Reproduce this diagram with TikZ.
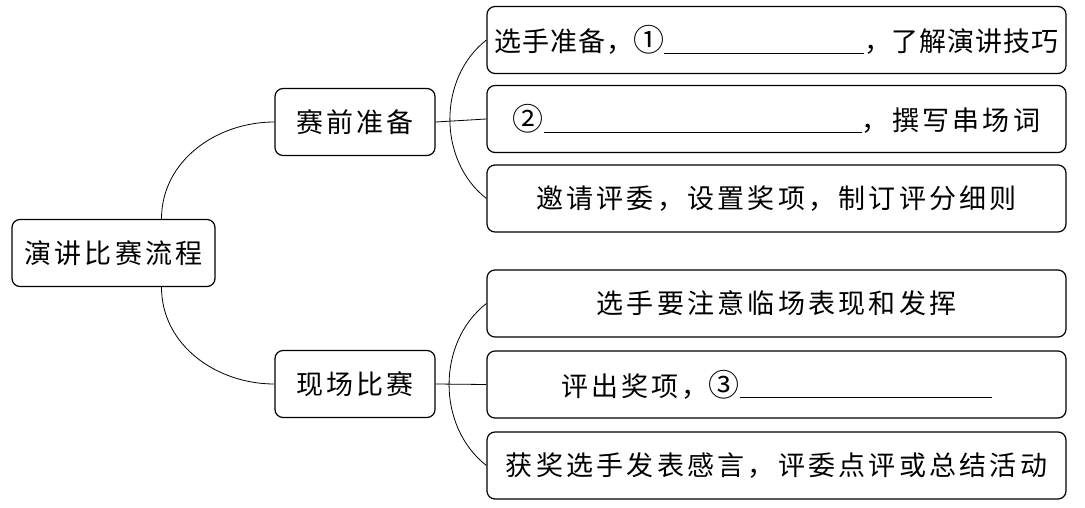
\documentclass[tikz,border=0pt]{standalone}
\usepackage{fontspec}
\newfontfamily\cjkwide[LetterSpace=12]{Noto Sans CJK SC}
\newfontfamily\cjkmid[LetterSpace=3]{Noto Sans CJK SC}
\newcommand{\blank}[1]{\rule[-2pt]{#1}{0.8pt}}
\newcommand{\circnum}[1]{{\fontsize{31}{31}\selectfont #1}}

\begin{document}
\begin{tikzpicture}[x=1pt,y=1pt,
  box/.style={draw,line width=1.2pt,rounded corners=8pt,minimum height=67pt,
    inner sep=0pt,font=\fontsize{27}{27}\cjkwide},
  leaf/.style={box,minimum width=579pt},
  link/.style={line width=0.8pt}]

\useasboundingbox (0,0) rectangle (1085,507);

\node[box,minimum width=203pt] (root) at (113.5,254) {演讲比赛流程};
\node[box,minimum width=160pt] (pre) at (355,385) {赛前准备};
\node[box,minimum width=160pt] (live) at (355,123) {现场比赛};

% first branch
\node[leaf,font=\fontsize{27}{27}\cjkmid] (p1) at (776.5,467) {选手准备，\circnum{①}\blank{200pt}，了解演讲技巧};
\node[leaf] (p2) at (776.5,388) {\circnum{②}\blank{318pt}，撰写串场词};
\node[leaf] (p3) at (776.5,308.5) {邀请评委，设置奖项，制订评分细则};

% second branch
\node[leaf] (l1) at (776.5,203.5) {选手要注意临场表现和发挥};
\node[leaf] (l2) at (776.5,122.5) {评出奖项，\circnum{③}\blank{252pt}};
\node[leaf] (l3) at (776.5,41.5) {获奖选手发表感言，评委点评或总结活动};

\begin{scope}[link]
\draw ([xshift=48pt]root.north) to[out=90,in=180] (pre.west);
\draw ([xshift=48pt]root.south) to[out=-90,in=180] (live.west);
\draw (pre.east) -- (p2.west);
\draw (p1.west) to[bend right=52] (p3.west);
\draw (live.east) -- (l2.west);
\draw (l1.west) to[bend right=52] (l3.west);
\end{scope}

\end{tikzpicture}
\end{document}
